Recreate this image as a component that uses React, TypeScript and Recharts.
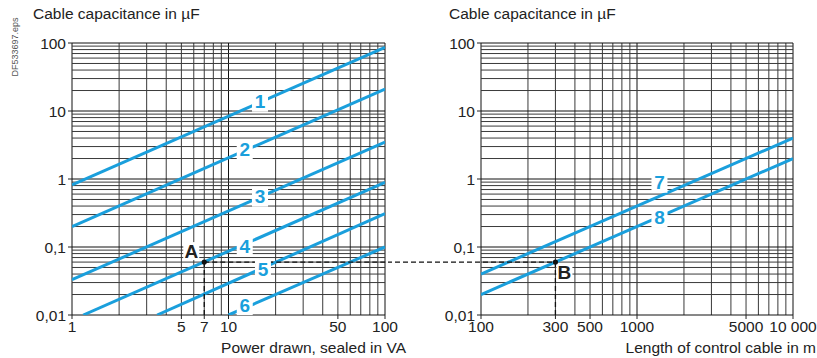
import React from 'react';
import { LineChart, Line, XAxis, YAxis, ReferenceLine, ReferenceDot } from 'recharts';

// axis ticks
const powerTicks = [1, 5, 7, 10, 50, 100];
const lengthTicks = [100, 300, 500, 1000, 5000, 10000];
const capTicks = [0.01, 0.1, 1, 10, 100];

// log grid
const powerGrid = [1, 2, 3, 4, 5, 6, 7, 8, 9, 10, 20, 30, 40, 50, 60, 70, 80, 90, 100];
const lengthGrid = [100, 200, 300, 400, 500, 600, 700, 800, 900, 1000, 2000, 3000, 4000, 5000, 6000, 7000, 8000, 9000, 10000];
const capGrid = [
  0.01, 0.02, 0.03, 0.04, 0.05, 0.06, 0.07, 0.08, 0.09,
  0.1, 0.2, 0.3, 0.4, 0.5, 0.6, 0.7, 0.8, 0.9,
  1, 2, 3, 4, 5, 6, 7, 8, 9,
  10, 20, 30, 40, 50, 60, 70, 80, 90, 100,
];
const majorCap = [0.01, 0.1, 1, 10, 100];

// curves (power in VA -> capacitance in uF)
const curve1 = [{ x: 1, y: 0.82 }, { x: 100, y: 86 }];
const curve2 = [{ x: 1, y: 0.2 }, { x: 100, y: 21 }];
const curve3 = [{ x: 1, y: 0.033 }, { x: 100, y: 3.5 }];
const curve4 = [{ x: 1.18, y: 0.01 }, { x: 100, y: 0.89 }];
const curve5 = [{ x: 3.5, y: 0.01 }, { x: 100, y: 0.31 }];
const curve6 = [{ x: 10, y: 0.01 }, { x: 100, y: 0.1 }];
const leftCurves = [curve1, curve2, curve3, curve4, curve5, curve6];

// curves (cable length in m -> capacitance in uF)
const curve7 = [{ x: 100, y: 0.04 }, { x: 10000, y: 4 }];
const curve8 = [{ x: 100, y: 0.02 }, { x: 10000, y: 2 }];
const rightCurves = [curve7, curve8];

const leftLabels = [
  { name: '1', x: 15.9, y: 13.7 },
  { name: '2', x: 12.7, y: 2.67 },
  { name: '3', x: 15.9, y: 0.55 },
  { name: '4', x: 12.7, y: 0.103 },
  { name: '5', x: 16.6, y: 0.046 },
  { name: '6', x: 12.7, y: 0.014 },
];
const rightLabels = [
  { name: '7', x: 1393, y: 0.88 },
  { name: '8', x: 1393, y: 0.274 },
];

const pointA = { x: 7, y: 0.06 };
const pointB = { x: 300, y: 0.06 };

const BLUE = '#1a9fdc';
const FONT = '"Liberation Sans", Arial, sans-serif';

const fmtCap = (v: number) => String(v).replace('.', ',');
const fmtLen = (v: number) => (v >= 10000 ? '10 000' : String(v));

const CurveLabel = (text: string) => (props: any) => {
  const { cx, cy } = props;
  return (
    <g>
      <rect x={cx - 8} y={cy - 10} width={16} height={20} fill="#fff" />
      <text x={cx} y={cy} textAnchor="middle" dominantBaseline="central" fontSize={19} fontWeight="bold" fill={BLUE} fontFamily={FONT}>
        {text}
      </text>
    </g>
  );
};

const PointMark = (text: string, dx: number, dy: number) => (props: any) => {
  const { cx, cy } = props;
  return (
    <g>
      <rect x={cx + dx - 8} y={cy + dy - 9} width={16} height={18} fill="#fff" />
      <text x={cx + dx} y={cy + dy} textAnchor="middle" dominantBaseline="central" fontSize={19} fontWeight="bold" fill="#222" fontFamily={FONT}>
        {text}
      </text>
      <circle cx={cx} cy={cy} r={2.6} fill="#111" />
    </g>
  );
};

const gridLines = (xs: number[]) => [
  ...xs.map((v, i) => (
    <ReferenceLine key={`gx${v}`} x={v} stroke={i % 9 === 0 ? '#111' : '#3a3a3a'} strokeWidth={1} zIndex={-50} />
  )),
  ...capGrid.map((v) => (
    <ReferenceLine key={`gy${v}`} y={v} stroke={majorCap.includes(v) ? '#111' : '#3a3a3a'} strokeWidth={1} zIndex={-50} />
  )),
];

const dashProps = { stroke: '#111', strokeWidth: 1.3, strokeDasharray: '5 3' };

const LeftDash = (props: any) => {
  const { x1, y1, x2, y2 } = props;
  return <line x1={x1} y1={y1} x2={x2 + 3} y2={y2} {...dashProps} />;
};
const RightDash = (props: any) => {
  const { x2, y2 } = props;
  return <line x1={-1} y1={y2} x2={x2} y2={y2} {...dashProps} />;
};

const tickStyle = { fontSize: 15.5, fill: '#222', fontFamily: FONT };

export default function App() {
  return (
    <div style={{ position: 'absolute', left: 0, top: 0, width: 817, height: 358, background: '#fff', fontFamily: FONT, color: '#222', overflow: 'hidden' }}>
      <div style={{ position: 'absolute', left: 15, top: 47, transform: 'translate(-50%, -50%) rotate(-90deg)', fontSize: 9, color: '#555', whiteSpace: 'nowrap' }}>
        DF533697.eps
      </div>
      <div style={{ position: 'absolute', left: 33, top: 5, fontSize: 15.5, whiteSpace: 'nowrap' }}>Cable capacitance in µF</div>
      <div style={{ position: 'absolute', left: 449, top: 5, fontSize: 15.5, whiteSpace: 'nowrap' }}>Cable capacitance in µF</div>
      <div style={{ position: 'absolute', right: 817 - 406, top: 339, fontSize: 15.5, whiteSpace: 'nowrap' }}>Power drawn, sealed in VA</div>
      <div style={{ position: 'absolute', right: 1, top: 339, fontSize: 15.5, whiteSpace: 'nowrap' }}>Length of control cable in m</div>

      <div style={{ position: 'absolute', left: 0, top: 0 }}>
        <LineChart width={412} height={358} margin={{ top: 43, right: 27, bottom: 0, left: 12 }}>
          <XAxis type="number" dataKey="x" scale="log" domain={[1, 100]} ticks={powerTicks} allowDataOverflow
            axisLine={false} tickSize={4} tickLine={{ stroke: '#222' }} tick={tickStyle} height={43} interval={0} />
          <YAxis type="number" dataKey="y" scale="log" domain={[0.01, 100]} ticks={capTicks} allowDataOverflow
            axisLine={false} tickSize={4} tickLine={{ stroke: '#222' }} tick={tickStyle} width={60} tickFormatter={fmtCap} interval={0} />
          {gridLines(powerGrid)}
          {leftCurves.map((d, i) => (
            <Line key={`l${i}`} data={d} dataKey="y" stroke={BLUE} strokeWidth={3} dot={false} isAnimationActive={false} />
          ))}
          <ReferenceLine segment={[pointA, { x: 100, y: pointA.y }]} shape={LeftDash} zIndex={450} />
          <ReferenceLine segment={[{ x: pointA.x, y: 0.01 }, pointA]} {...dashProps} zIndex={450} />
          {leftLabels.map((l) => (
            <ReferenceDot key={l.name} x={l.x} y={l.y} r={0} shape={CurveLabel(l.name)} zIndex={2100} />
          ))}
          <ReferenceDot x={pointA.x} y={pointA.y} shape={PointMark('A', -13, -11)} zIndex={2100} />
        </LineChart>
      </div>

      <div style={{ position: 'absolute', left: 388, top: 0 }}>
        <LineChart width={429} height={358} margin={{ top: 43, right: 24, bottom: 0, left: 0 }}>
          <XAxis type="number" dataKey="x" scale="log" domain={[100, 10000]} ticks={lengthTicks} allowDataOverflow
            axisLine={false} tickSize={4} tickLine={{ stroke: '#222' }} tick={tickStyle} height={43} tickFormatter={fmtLen} interval={0} />
          <YAxis type="number" dataKey="y" scale="log" domain={[0.01, 100]} ticks={capTicks} allowDataOverflow
            axisLine={false} tickSize={4} tickLine={{ stroke: '#222' }} tick={tickStyle} width={93} tickFormatter={fmtCap} interval={0} />
          {gridLines(lengthGrid)}
          {rightCurves.map((d, i) => (
            <Line key={`r${i}`} data={d} dataKey="y" stroke={BLUE} strokeWidth={3} dot={false} isAnimationActive={false} />
          ))}
          <ReferenceLine segment={[{ x: 100, y: pointB.y }, pointB]} shape={RightDash} zIndex={450} />
          <ReferenceLine segment={[{ x: pointB.x, y: 0.01 }, pointB]} {...dashProps} zIndex={450} />
          {rightLabels.map((l) => (
            <ReferenceDot key={l.name} x={l.x} y={l.y} r={0} shape={CurveLabel(l.name)} zIndex={2100} />
          ))}
          <ReferenceDot x={pointB.x} y={pointB.y} shape={PointMark('B', 9, 10)} zIndex={2100} />
        </LineChart>
      </div>
    </div>
  );
}
